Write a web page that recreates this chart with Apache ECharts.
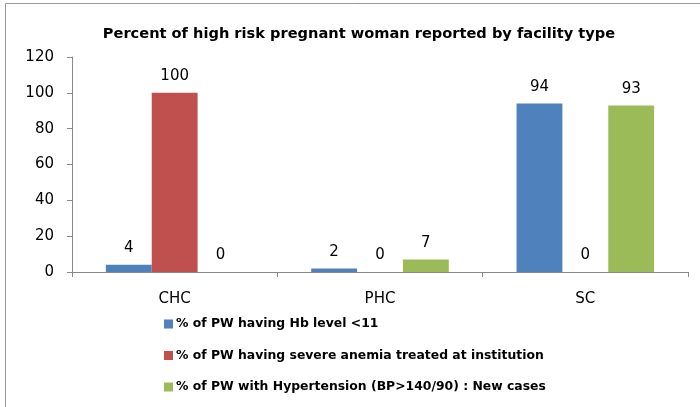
<!DOCTYPE html>
<html>
<head>
<meta charset="utf-8">
<script src="https://cdn.jsdelivr.net/npm/echarts@6/dist/echarts.min.js"></script>
<style>
    html, body { margin: 0; padding: 0; background: #fff; }
    #chart { width: 700px; height: 407px; }
</style>
</head>
<body>
<div id="chart"></div>
<script>
var categories = ['CHC', 'PHC', 'SC'];
var seriesNames = [
    '% of PW having Hb level <11',
    '% of PW having severe anemia treated at institution',
    '% of PW with Hypertension (BP>140/90) : New cases'
];
var hbLow = [4, 2, 94];
var anemiaTreated = [100, 0, 0];
var hypertension = [0, 7, 93];
var colors = ['#4F81BD', '#C0504D', '#9BBB59'];

var font = 'DejaVu Sans, sans-serif';

function makeSeries(i, data) {
    return {
        name: seriesNames[i],
        type: 'bar',
        data: data,
        barGap: '0%',
        barCategoryGap: '33%',
        itemStyle: { color: colors[i] },
        label: {
            show: true,
            position: 'top',
            distance: 9,
            color: '#000',
            fontFamily: font,
            fontSize: 15
        }
    };
}

var chart = echarts.init(document.getElementById('chart'));
var option = {
    animation: false,
    title: {
        text: 'Percent of high risk pregnant woman reported by facility type',
        left: 354,
        textAlign: 'center',
        top: 22,
        textStyle: { fontFamily: font, fontSize: 14.6, fontWeight: 'bold', color: '#000' }
    },
    graphic: [{
        type: 'rect',
        shape: { x: 5.5, y: 3.5, width: 720, height: 420 },
        style: { fill: 'none', stroke: '#999', lineWidth: 1 },
        silent: true
    }],
    legend: {
        orient: 'vertical',
        left: 159,
        top: 313,
        itemWidth: 9,
        itemHeight: 9,
        itemGap: 19.5,
        icon: 'rect',
        textStyle: { fontFamily: font, fontSize: 12.4, fontWeight: 'bold', color: '#000', padding: [0, 0, 0, -2] },
        data: seriesNames
    },
    grid: { left: 72, right: 12, top: 57, bottom: 135, containLabel: false },
    xAxis: {
        type: 'category',
        data: categories,
        axisLine: { lineStyle: { color: '#888' } },
        axisTick: { show: true, length: 5, lineStyle: { color: '#888' } },
        axisLabel: { color: '#000', fontFamily: font, fontSize: 15, margin: 20 }
    },
    yAxis: {
        type: 'value',
        min: 0,
        max: 120,
        interval: 20,
        splitLine: { show: false },
        axisLine: { show: true, lineStyle: { color: '#888' } },
        axisTick: { show: true, length: 5, lineStyle: { color: '#888' } },
        axisLabel: { color: '#000', fontFamily: font, fontSize: 15, margin: 18 }
    },
    series: [
        makeSeries(0, hbLow),
        makeSeries(1, anemiaTreated),
        makeSeries(2, hypertension)
    ]
};
chart.setOption(option);
</script>
</body>
</html>
